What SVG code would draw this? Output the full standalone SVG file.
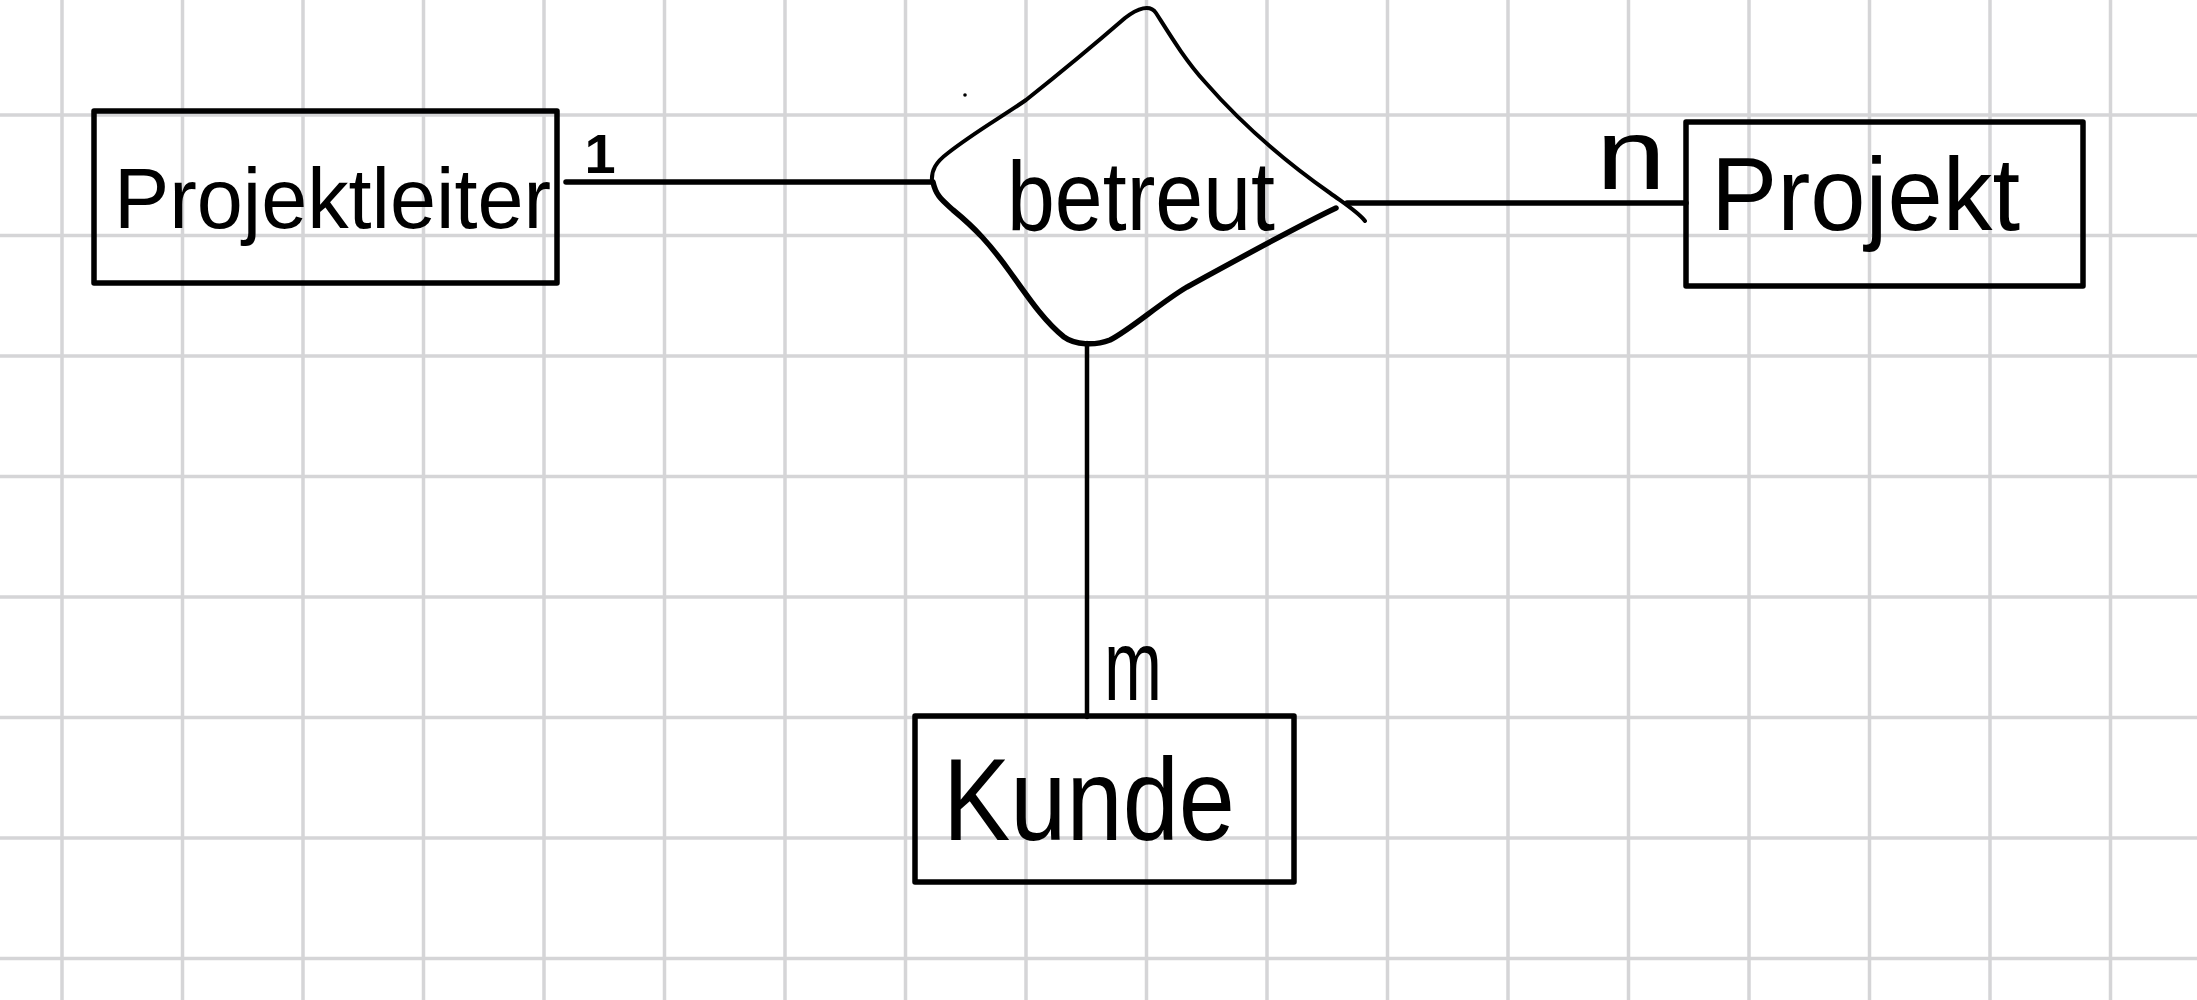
<svg xmlns="http://www.w3.org/2000/svg" width="2197" height="1000" viewBox="0 0 2197 1000">
<style>
.grid line{stroke:#d5d5d7;stroke-width:3.5}
.box{fill:none;stroke:#000;stroke-width:5.5;stroke-linejoin:round}
.edge{fill:none;stroke:#000;stroke-linecap:round;stroke-linejoin:round}
.lbl{font-family:"Liberation Sans",Arial,sans-serif;fill:#000}
</style>
<rect x="0" y="0" width="2197" height="1000" fill="#fff"/>
<g class="grid">
<line x1="62" y1="0" x2="62" y2="1000"/><line x1="182.5" y1="0" x2="182.5" y2="1000"/><line x1="303" y1="0" x2="303" y2="1000"/><line x1="423.5" y1="0" x2="423.5" y2="1000"/><line x1="544" y1="0" x2="544" y2="1000"/><line x1="664.5" y1="0" x2="664.5" y2="1000"/><line x1="785" y1="0" x2="785" y2="1000"/><line x1="905.5" y1="0" x2="905.5" y2="1000"/><line x1="1026" y1="0" x2="1026" y2="1000"/><line x1="1146.5" y1="0" x2="1146.5" y2="1000"/><line x1="1267" y1="0" x2="1267" y2="1000"/><line x1="1387.5" y1="0" x2="1387.5" y2="1000"/><line x1="1508" y1="0" x2="1508" y2="1000"/><line x1="1628.5" y1="0" x2="1628.5" y2="1000"/><line x1="1749" y1="0" x2="1749" y2="1000"/><line x1="1869.5" y1="0" x2="1869.5" y2="1000"/><line x1="1990" y1="0" x2="1990" y2="1000"/><line x1="2110.5" y1="0" x2="2110.5" y2="1000"/>
<line x1="0" y1="115" x2="2197" y2="115"/><line x1="0" y1="235.5" x2="2197" y2="235.5"/><line x1="0" y1="356" x2="2197" y2="356"/><line x1="0" y1="476.5" x2="2197" y2="476.5"/><line x1="0" y1="597" x2="2197" y2="597"/><line x1="0" y1="717.5" x2="2197" y2="717.5"/><line x1="0" y1="838" x2="2197" y2="838"/><line x1="0" y1="958.5" x2="2197" y2="958.5"/>
</g>
<circle cx="965" cy="95" r="1.8" fill="#000"/>
<g id="connectors">
<line class="edge" x1="566" y1="182" x2="932" y2="182" stroke-width="5.5"/>
<line class="edge" x1="1347" y1="203" x2="1686" y2="203" stroke-width="5.5"/>
<line class="edge" x1="1087" y1="343" x2="1087" y2="717" stroke-width="4.5"/>
<text class="lbl" x="600" y="173" font-size="56" font-weight="bold" text-anchor="middle">1</text>
<text class="lbl" x="1596" y="189" font-size="100" textLength="70" lengthAdjust="spacingAndGlyphs">n</text>
<text class="lbl" x="1104" y="700" font-size="100" textLength="58" lengthAdjust="spacingAndGlyphs">m</text>
</g>
<g id="node-projektleiter">
<rect class="box" x="94" y="111" width="463" height="172"/>
<text class="lbl" x="114" y="228" font-size="86" textLength="437" lengthAdjust="spacingAndGlyphs">Projektleiter</text>
</g>
<g id="node-betreut">
<path class="edge" stroke-width="4" d="M932,182 C931,170 936,162 948,153 C975,132 1000,118 1026,100 C1060,73 1095,44 1125,18 C1138,8 1150,4 1156,13 C1170,35 1185,60 1205,82 C1240,122 1280,158 1330,193 C1345,204 1358,212 1365,221"/>
<path class="edge" stroke-width="5.5" d="M1336,208 C1300,225 1260,247 1187,287 C1160,303 1130,330 1110,340 C1095,346 1075,345 1064,337 C1045,322 1030,300 1010,272 C990,244 975,228 953,210 C942,200 936,196 933,182"/>
<text class="lbl" x="1007" y="230" font-size="98" textLength="268" lengthAdjust="spacingAndGlyphs">betreut</text>
</g>
<g id="node-projekt">
<rect class="box" x="1686" y="122" width="397" height="164"/>
<text class="lbl" x="1711" y="230" font-size="104" textLength="309" lengthAdjust="spacingAndGlyphs">Projekt</text>
</g>
<g id="node-kunde">
<rect class="box" x="915" y="716" width="379" height="166"/>
<text class="lbl" x="943" y="840" font-size="116" textLength="292" lengthAdjust="spacingAndGlyphs">Kunde</text>
</g>
</svg>
